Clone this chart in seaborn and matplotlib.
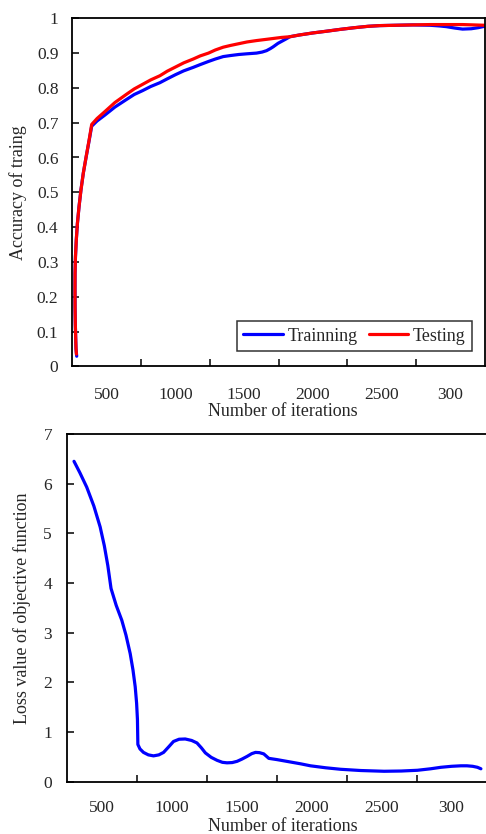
import matplotlib
matplotlib.use("Agg")
import matplotlib.pyplot as plt
import pandas as pd
import seaborn as sns

# ---- accuracy curves (iterations, accuracy) ----
train_iter = [282, 277, 275, 272, 270, 269.5, 270, 273, 279, 287, 299, 313, 330, 350,
              373, 391, 430, 487, 560, 645, 700, 760, 820, 887, 940, 1000, 1060,
              1129, 1180, 1240, 1290, 1347, 1400, 1460, 1520, 1589, 1630, 1662,
              1690, 1710, 1745, 1782, 1810, 1831, 1900, 2000, 2100, 2194, 2300,
              2400, 2485, 2600, 2724, 2850, 2920, 2969, 3030, 3087, 3150, 3200, 3247]
train_acc = [0.029, 0.050, 0.076, 0.120, 0.171, 0.220, 0.267, 0.315, 0.363, 0.410,
             0.459, 0.507, 0.555, 0.600, 0.650, 0.690, 0.705, 0.722, 0.745, 0.767,
             0.781, 0.792, 0.804, 0.815, 0.826, 0.838, 0.849, 0.859, 0.867, 0.876,
             0.883, 0.890, 0.893, 0.896, 0.898, 0.900, 0.903, 0.907, 0.913, 0.918,
             0.928, 0.936, 0.942, 0.947, 0.952, 0.958, 0.963, 0.968, 0.973, 0.977,
             0.979, 0.980, 0.981, 0.980, 0.978, 0.976, 0.972, 0.969, 0.970, 0.973,
             0.977]

test_iter = [280, 277, 275, 272, 270, 269.5, 270, 273, 279, 287, 299, 313, 330, 350,
             373, 391, 430, 487, 560, 645, 700, 760, 820, 887, 940, 1000, 1060,
             1129, 1180, 1240, 1290, 1347, 1400, 1460, 1520, 1589, 1650, 1710,
             1770, 1831, 1900, 2000, 2100, 2194, 2300, 2400, 2485, 2600, 2724,
             2850, 2969, 3087, 3170, 3247]
test_acc = [0.035, 0.050, 0.076, 0.120, 0.171, 0.220, 0.267, 0.315, 0.363, 0.410,
            0.459, 0.507, 0.555, 0.601, 0.652, 0.695, 0.712, 0.732, 0.758, 0.782,
            0.797, 0.810, 0.823, 0.835, 0.848, 0.860, 0.872, 0.883, 0.892, 0.900,
            0.909, 0.917, 0.922, 0.927, 0.932, 0.936, 0.939, 0.942, 0.945, 0.947,
            0.952, 0.958, 0.963, 0.968, 0.973, 0.977, 0.979, 0.980, 0.981, 0.982,
            0.982, 0.982, 0.981, 0.980]

# ---- loss curve ----
loss_iter = [298, 340, 389, 440, 485, 515, 540, 563, 600, 640, 670, 700, 720, 736,
             746, 752, 755, 770, 795, 830, 867, 905, 939, 975, 1010, 1050, 1094,
             1140, 1178, 1210, 1238, 1280, 1322, 1360, 1393, 1430, 1465, 1500,
             1537, 1570, 1597, 1625, 1656, 1692, 1750, 1800, 1860, 1920, 1990,
             2100, 2206, 2350, 2517, 2640, 2756, 2850, 2924, 3000, 3067, 3110,
             3151, 3185, 3210]
loss_val = [6.45, 6.22, 5.93, 5.55, 5.13, 4.75, 4.35, 3.89, 3.55, 3.25, 2.95, 2.58,
            2.25, 1.91, 1.58, 1.25, 0.75, 0.66, 0.59, 0.54, 0.52, 0.54, 0.59, 0.70,
            0.81, 0.855, 0.86, 0.83, 0.78, 0.68, 0.58, 0.49, 0.43, 0.39, 0.38,
            0.385, 0.41, 0.455, 0.51, 0.565, 0.59, 0.585, 0.56, 0.47, 0.445, 0.42,
            0.39, 0.36, 0.32, 0.28, 0.25, 0.225, 0.21, 0.215, 0.23, 0.26, 0.29,
            0.31, 0.32, 0.32, 0.31, 0.29, 0.26]

# ---- axis ticks ----
x_label_pos = [500, 1000, 1500, 2000, 2500, 3000]
x_labels = ["500", "1000", "1500", "2000", "2500", "300"]
x_tick_marks = [750, 1250, 1750, 2250, 2750]
acc_ticks = [0, 0.1, 0.2, 0.3, 0.4, 0.5, 0.6, 0.7, 0.8, 0.9, 1.0]
acc_tick_labels = ["0", "0.1", "0.2", "0.3", "0.4", "0.5", "0.6", "0.7", "0.8", "0.9", "1"]
loss_ticks = [0, 1, 2, 3, 4, 5, 6, 7]

sns.set_style("ticks")
plt.rcParams["font.family"] = ["Liberation Serif", "DejaVu Serif"]
plt.rcParams["axes.edgecolor"] = "black"
plt.rcParams["axes.linewidth"] = 1.3

W, H = 486, 834
fig = plt.figure(figsize=(W / 100, H / 100), dpi=100)

def frac(left, top, right, bottom):
    return [left / W, 1 - bottom / H, (right - left) / W, (bottom - top) / H]

ax1 = fig.add_axes(frac(72.3, 18.3, 485, 366.3))
ax2 = fig.add_axes(frac(67.3, 434, 486.5, 781.7))

acc_df = pd.concat([
    pd.DataFrame({"iter": train_iter, "acc": train_acc, "set": "Trainning"}),
    pd.DataFrame({"iter": test_iter, "acc": test_acc, "set": "Testing"}),
], ignore_index=True)

sns.lineplot(data=acc_df, x="iter", y="acc", hue="set",
             hue_order=["Trainning", "Testing"],
             palette={"Trainning": "#0000ff", "Testing": "#ff0000"},
             sort=False, estimator=None, linewidth=2.3, ax=ax1)

loss_df = pd.DataFrame({"iter": loss_iter, "loss": loss_val})
sns.lineplot(data=loss_df, x="iter", y="loss", sort=False, estimator=None,
             color="#0000ff", linewidth=2.3, ax=ax2)

for line in ax1.get_lines() + ax2.get_lines():
    line.set_solid_joinstyle("round")
    line.set_solid_capstyle("round")

def style_x(ax, pad):
    ax.set_xlim(250, 3250)
    ax.set_xticks(x_tick_marks, labels=[""] * len(x_tick_marks))
    ax.set_xticks(x_label_pos, labels=x_labels, minor=True)
    ax.tick_params(axis="x", which="major", direction="in", length=5, width=1.1,
                   color="black")
    ax.tick_params(axis="x", which="minor", length=0, pad=pad, labelsize=12.5)

style_x(ax1, 15)
style_x(ax2, 13)

ax1.set_ylim(0, 1)
ax1.set_yticks(acc_ticks, labels=acc_tick_labels)
ax1.tick_params(axis="y", direction="in", length=5, width=1.1, pad=10,
                labelsize=12.5, color="black")

ax2.set_ylim(0, 7)
ax2.set_yticks(loss_ticks, labels=[str(v) for v in loss_ticks])
ax2.tick_params(axis="y", direction="in", length=5, width=1.1, pad=11,
                labelsize=12.5, color="black")
ax2.spines["right"].set_visible(False)

ax1.set_xlabel("Number of iterations", fontsize=13, va="center")
ax1.set_ylabel("Accuracy of traing", fontsize=13, va="center")
ax1.xaxis.set_label_coords(0.51, -0.131)
ax1.yaxis.set_label_coords(-0.1316, 0.5)

ax2.set_xlabel("Number of iterations", fontsize=13, va="center")
ax2.set_ylabel("Loss value of objective function", fontsize=13, va="center")
ax2.xaxis.set_label_coords(0.513, -0.1295)
ax2.yaxis.set_label_coords(-0.1083, 0.5)

handles, labels = ax1.get_legend_handles_labels()
leg = ax1.legend(handles, labels, loc="lower right",
                 bbox_to_anchor=(0.9685, 0.044), borderaxespad=0,
                 ncol=2, fontsize=13, frameon=True, fancybox=False,
                 edgecolor="black", handlelength=2.2, handletextpad=0.25,
                 columnspacing=0.6, borderpad=0.35)
leg.get_frame().set_linewidth(1.1)

fig.savefig("out.png", dpi=100)
